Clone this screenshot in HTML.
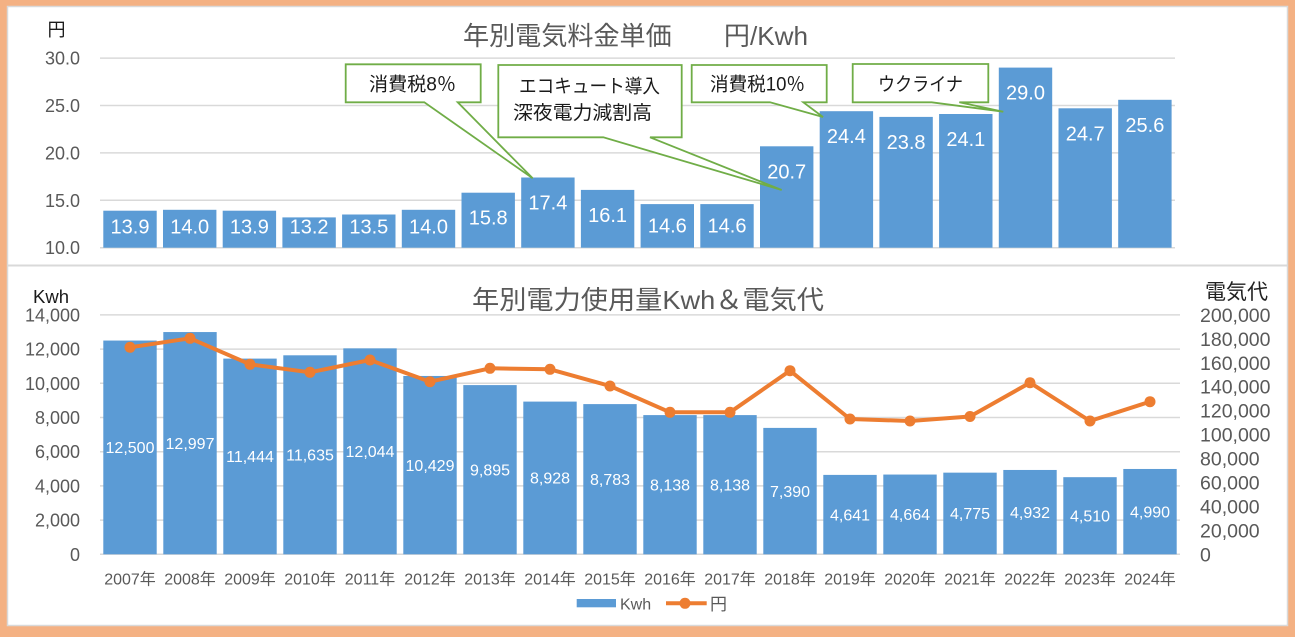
<!DOCTYPE html>
<html><head><meta charset="utf-8"><style>
html,body{margin:0;padding:0;background:#F4B183;}
svg{display:block;}
text{font-family:"Liberation Sans","Noto Sans CJK JP",sans-serif;}
</style></head><body>
<svg width="1295" height="637" viewBox="0 0 1295 637" xmlns="http://www.w3.org/2000/svg">
<rect x="0" y="0" width="1295" height="637" fill="#F4B183"/>
<rect x="7.5" y="6.5" width="1280" height="619" fill="#fff" stroke="#D9D9D9" stroke-width="1.5"/>
<line x1="8" y1="265.5" x2="1287" y2="265.5" stroke="#D9D9D9" stroke-width="2"/>

<!-- TOP CHART -->
<text x="463" y="45" font-size="26" fill="#595959" textLength="345" lengthAdjust="spacingAndGlyphs">年別電気料金単価　　円/Kwh</text>
<text x="56.5" y="36" font-size="18" fill="#1a1a1a" text-anchor="middle">円</text>
<g stroke="#D9D9D9" stroke-width="1.5">
<line x1="100" y1="58.1" x2="1175" y2="58.1"/>
<line x1="100" y1="105.5" x2="1175" y2="105.5"/>
<line x1="100" y1="152.9" x2="1175" y2="152.9"/>
<line x1="100" y1="200.3" x2="1175" y2="200.3"/>
<line x1="100" y1="247.7" x2="1175" y2="247.7"/>
</g>
<g font-size="18" fill="#595959" text-anchor="end">
<text x="80" y="64.6">30.0</text>
<text x="80" y="112">25.0</text>
<text x="80" y="159.4">20.0</text>
<text x="80" y="206.8">15.0</text>
<text x="80" y="254.2">10.0</text>
</g>
<g fill="#5B9BD5">
<rect x="103.3" y="210.7" width="53.4" height="37"/>
<rect x="163.0" y="209.8" width="53.4" height="37.9"/>
<rect x="222.7" y="210.7" width="53.4" height="37"/>
<rect x="282.4" y="217.4" width="53.4" height="30.3"/>
<rect x="342.1" y="214.5" width="53.4" height="33.2"/>
<rect x="401.8" y="209.8" width="53.4" height="37.9"/>
<rect x="461.5" y="192.7" width="53.4" height="55"/>
<rect x="521.2" y="177.5" width="53.4" height="70.2"/>
<rect x="580.9" y="189.9" width="53.4" height="57.8"/>
<rect x="640.6" y="204.1" width="53.4" height="43.6"/>
<rect x="700.3" y="204.1" width="53.4" height="43.6"/>
<rect x="760.0" y="146.3" width="53.4" height="101.4"/>
<rect x="819.7" y="111.2" width="53.4" height="136.5"/>
<rect x="879.4" y="116.9" width="53.4" height="130.8"/>
<rect x="939.1" y="114.0" width="53.4" height="133.7"/>
<rect x="998.8" y="67.6" width="53.4" height="180.1"/>
<rect x="1058.5" y="108.3" width="53.4" height="139.4"/>
<rect x="1118.2" y="99.8" width="53.4" height="147.9"/>
</g>
<g font-size="20" fill="#fff" text-anchor="middle">
<text x="130" y="233.5">13.9</text>
<text x="189.7" y="233.5">14.0</text>
<text x="249.4" y="233.5">13.9</text>
<text x="309.1" y="233.5">13.2</text>
<text x="368.8" y="233.5">13.5</text>
<text x="428.5" y="233.5">14.0</text>
<text x="488.2" y="224.7">15.8</text>
<text x="547.9" y="209.5">17.4</text>
<text x="607.6" y="221.9">16.1</text>
<text x="667.3" y="232.7">14.6</text>
<text x="727" y="232.7">14.6</text>
<text x="786.7" y="178.3">20.7</text>
<text x="846.4" y="143.2">24.4</text>
<text x="906.1" y="148.9">23.8</text>
<text x="965.8" y="146">24.1</text>
<text x="1025.5" y="99.6">29.0</text>
<text x="1085.2" y="140.3">24.7</text>
<text x="1144.9" y="131.8">25.6</text>
</g>
<!-- callouts -->
<g fill="#fff" stroke="#70AD47" stroke-width="1.8" stroke-linejoin="miter">
<path d="M345.7,64.3 H480.7 V102.3 H457.7 L532.7,178.3 L424.3,102.3 H345.7 Z"/>
<path d="M498.3,65 H681.7 V137.3 H650 L781.7,190 L603.3,137.3 H498.3 Z"/>
<path d="M691.7,65 H826.7 V102.3 H803.3 L823,117 L770,102.3 H691.7 Z"/>
<path d="M852.7,64 H988.3 V102.3 H959.3 L1003.3,111.7 L931.7,102.3 H852.7 Z"/>
</g>
<g font-size="19" fill="#1a1a1a">
<text x="369" y="90.5" textLength="87" lengthAdjust="spacingAndGlyphs">消費税8％</text>
<text x="519" y="92.5" textLength="141" lengthAdjust="spacingAndGlyphs">エコキュート導入</text>
<text x="513" y="119" textLength="139" lengthAdjust="spacingAndGlyphs">深夜電力減割高</text>
<text x="710" y="90.5" textLength="95" lengthAdjust="spacingAndGlyphs">消費税10％</text>
<text x="878" y="90.5" textLength="85" lengthAdjust="spacingAndGlyphs">ウクライナ</text>
</g>

<!-- BOTTOM CHART -->
<text x="472" y="309" font-size="26" fill="#595959" textLength="352" lengthAdjust="spacingAndGlyphs">年別電力使用量Kwh＆電気代</text>
<text x="33" y="303" font-size="18" fill="#1a1a1a" textLength="36" lengthAdjust="spacingAndGlyphs">Kwh</text>
<text x="1205" y="299" font-size="21" fill="#222" textLength="63" lengthAdjust="spacingAndGlyphs">電気代</text>
<g stroke="#D9D9D9" stroke-width="1.5">
<line x1="100" y1="314.9" x2="1180" y2="314.9"/>
<line x1="100" y1="349.1" x2="1180" y2="349.1"/>
<line x1="100" y1="383.3" x2="1180" y2="383.3"/>
<line x1="100" y1="417.5" x2="1180" y2="417.5"/>
<line x1="100" y1="451.7" x2="1180" y2="451.7"/>
<line x1="100" y1="485.9" x2="1180" y2="485.9"/>
<line x1="100" y1="520.1" x2="1180" y2="520.1"/>
<line x1="100" y1="554.3" x2="1180" y2="554.3"/>
</g>
<g font-size="18" fill="#595959" text-anchor="end">
<text x="80" y="321.4">14,000</text>
<text x="80" y="355.6">12,000</text>
<text x="80" y="389.8">10,000</text>
<text x="80" y="424">8,000</text>
<text x="80" y="458.2">6,000</text>
<text x="80" y="492.4">4,000</text>
<text x="80" y="526.6">2,000</text>
<text x="80" y="560.8">0</text>
</g>
<g font-size="19.5" fill="#595959">
<text x="1200" y="321.9">200,000</text>
<text x="1200" y="345.8">180,000</text>
<text x="1200" y="369.8">160,000</text>
<text x="1200" y="393.7">140,000</text>
<text x="1200" y="417.7">120,000</text>
<text x="1200" y="441.6">100,000</text>
<text x="1200" y="465.5">80,000</text>
<text x="1200" y="489.5">60,000</text>
<text x="1200" y="513.4">40,000</text>
<text x="1200" y="537.4">20,000</text>
<text x="1200" y="561.3">0</text>
</g>
<g fill="#5B9BD5">
<rect x="103.3" y="340.55" width="53.4" height="213.75"/>
<rect x="163.3" y="332.05" width="53.4" height="222.25"/>
<rect x="223.3" y="358.6" width="53.4" height="195.7"/>
<rect x="283.3" y="355.3" width="53.4" height="199"/>
<rect x="343.3" y="348.35" width="53.4" height="205.95"/>
<rect x="403.3" y="375.96" width="53.4" height="178.34"/>
<rect x="463.3" y="385.1" width="53.4" height="169.2"/>
<rect x="523.3" y="401.6" width="53.4" height="152.7"/>
<rect x="583.3" y="404.1" width="53.4" height="150.2"/>
<rect x="643.3" y="415.1" width="53.4" height="139.2"/>
<rect x="703.3" y="415.1" width="53.4" height="139.2"/>
<rect x="763.3" y="427.9" width="53.4" height="126.4"/>
<rect x="823.3" y="474.9" width="53.4" height="79.4"/>
<rect x="883.3" y="474.55" width="53.4" height="79.75"/>
<rect x="943.3" y="472.65" width="53.4" height="81.65"/>
<rect x="1003.3" y="469.96" width="53.4" height="84.34"/>
<rect x="1063.3" y="477.18" width="53.4" height="77.12"/>
<rect x="1123.3" y="468.97" width="53.4" height="85.33"/>
</g>
<g font-size="16" fill="#fff" text-anchor="middle">
<text x="130" y="453.1">12,500</text>
<text x="190" y="448.9">12,997</text>
<text x="250" y="462.2">11,444</text>
<text x="310" y="460.5">11,635</text>
<text x="370" y="457">12,044</text>
<text x="430" y="470.8">10,429</text>
<text x="490" y="475.4">9,895</text>
<text x="550" y="483.7">8,928</text>
<text x="610" y="484.9">8,783</text>
<text x="670" y="490.4">8,138</text>
<text x="730" y="490.4">8,138</text>
<text x="790" y="496.8">7,390</text>
<text x="850" y="520.3">4,641</text>
<text x="910" y="520.1">4,664</text>
<text x="970" y="519.2">4,775</text>
<text x="1030" y="517.8">4,932</text>
<text x="1090" y="521.4">4,510</text>
<text x="1150" y="517.3">4,990</text>
</g>
<polyline fill="none" stroke="#ED7D31" stroke-width="4" stroke-linejoin="round" points="130,347.3 190,338.3 250,364.3 310,372.3 370,360 430,381.7 490,368.3 550,369.3 610,386 670,412.3 730,412.3 790,370.7 850,419 910,421 970,416.5 1030,382.7 1090,421 1150,401.7"/>
<g fill="#ED7D31">
<circle cx="130" cy="347.3" r="5.5"/><circle cx="190" cy="338.3" r="5.5"/><circle cx="250" cy="364.3" r="5.5"/>
<circle cx="310" cy="372.3" r="5.5"/><circle cx="370" cy="360" r="5.5"/><circle cx="430" cy="381.7" r="5.5"/>
<circle cx="490" cy="368.3" r="5.5"/><circle cx="550" cy="369.3" r="5.5"/><circle cx="610" cy="386" r="5.5"/>
<circle cx="670" cy="412.3" r="5.5"/><circle cx="730" cy="412.3" r="5.5"/><circle cx="790" cy="370.7" r="5.5"/>
<circle cx="850" cy="419" r="5.5"/><circle cx="910" cy="421" r="5.5"/><circle cx="970" cy="416.5" r="5.5"/>
<circle cx="1030" cy="382.7" r="5.5"/><circle cx="1090" cy="421" r="5.5"/><circle cx="1150" cy="401.7" r="5.5"/>
</g>
<g font-size="16" fill="#595959" text-anchor="middle">
<text x="130" y="584.5">2007年</text><text x="190" y="584.5">2008年</text><text x="250" y="584.5">2009年</text>
<text x="310" y="584.5">2010年</text><text x="370" y="584.5">2011年</text><text x="430" y="584.5">2012年</text>
<text x="490" y="584.5">2013年</text><text x="550" y="584.5">2014年</text><text x="610" y="584.5">2015年</text>
<text x="670" y="584.5">2016年</text><text x="730" y="584.5">2017年</text><text x="790" y="584.5">2018年</text>
<text x="850" y="584.5">2019年</text><text x="910" y="584.5">2020年</text><text x="970" y="584.5">2021年</text>
<text x="1030" y="584.5">2022年</text><text x="1090" y="584.5">2023年</text><text x="1150" y="584.5">2024年</text>
</g>
<!-- legend -->
<rect x="576.7" y="599" width="39.3" height="8.3" fill="#5B9BD5"/>
<text x="620" y="609.3" font-size="16" fill="#595959">Kwh</text>
<line x1="666" y1="603.3" x2="706.7" y2="603.3" stroke="#ED7D31" stroke-width="4"/>
<circle cx="685" cy="603.3" r="5.5" fill="#ED7D31"/>
<text x="710" y="609.8" font-size="17" fill="#595959">円</text>
</svg>
</body></html>
